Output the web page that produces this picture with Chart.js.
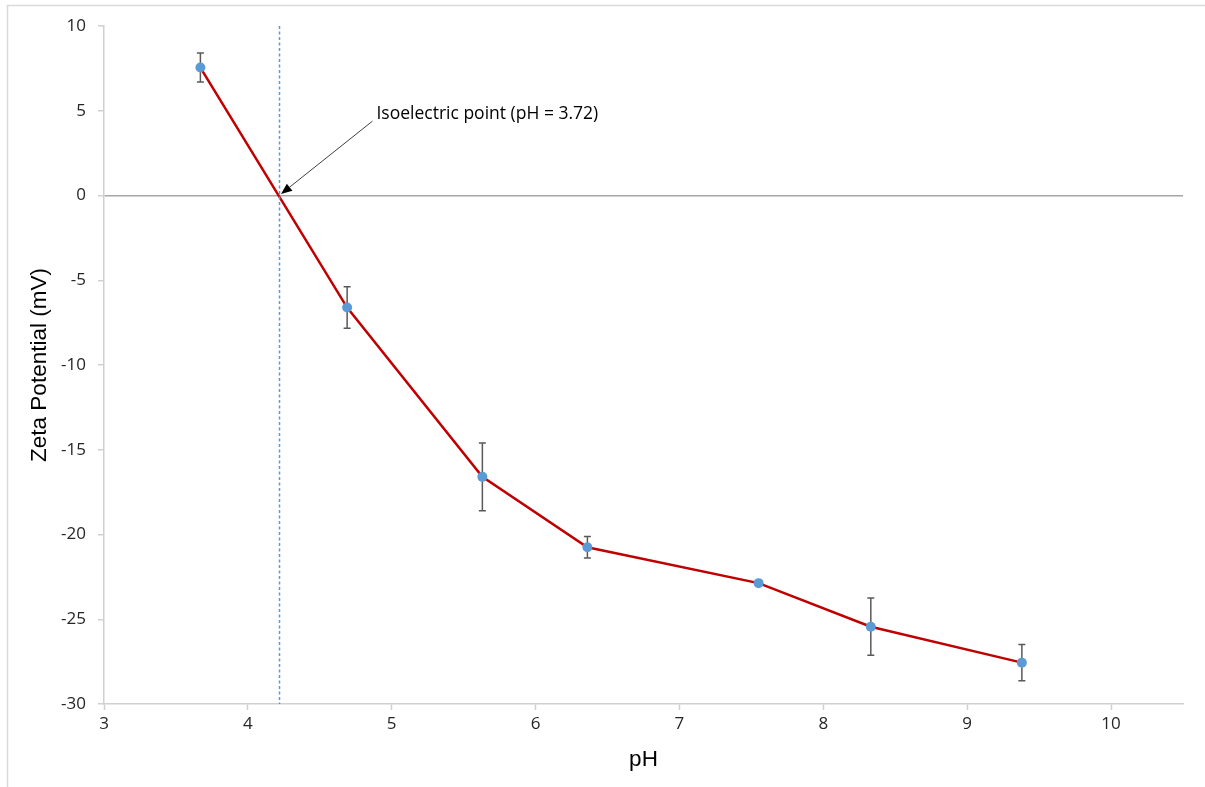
<!DOCTYPE html>
<html>
<head>
<meta charset="utf-8">
<script src="https://cdn.jsdelivr.net/npm/chart.js@4/dist/chart.umd.min.js"></script>
<style>
  html, body { margin: 0; padding: 0; background: #ffffff; }
  #wrap { width: 1205px; height: 787px; position: relative; }
</style>
</head>
<body>
<div id="wrap"><canvas id="c" width="1205" height="787"></canvas></div>
<script>
// Measured zeta potential vs pH, with standard deviation per point
const phValues   = [3.67, 4.69, 5.63, 6.36, 7.55, 8.33, 9.38];
const zetaValues = [7.55, -6.61, -16.6, -20.75, -22.87, -25.44, -27.56];
const zetaErrors = [0.85, 1.22, 2.0, 0.63, 0, 1.69, 1.07];

// Isoelectric point marker and its label
const isoPH = 4.22;
const isoLabel = 'Isoelectric point (pH = 3.72)';
const isoLabelAt = { x: 4.88, y: 4.8 };

// Axis ranges
const xRange = { min: 3, max: 10.5, step: 1 };
const yRange = { min: -30, max: 10, step: 5 };

const frame = {
  id: 'frame',
  beforeDraw(chart) {
    const ctx = chart.ctx;
    ctx.save();
    ctx.fillStyle = '#ffffff';
    ctx.fillRect(0, 0, chart.width, chart.height);
    ctx.strokeStyle = '#d9d9d9';
    ctx.lineWidth = 1.5;
    ctx.beginPath();
    ctx.moveTo(7.5, chart.height);
    ctx.lineTo(7.5, 5.5);
    ctx.lineTo(chart.width, 5.5);
    ctx.stroke();
    ctx.restore();
  }
};

const errorBars = {
  id: 'errorBars',
  beforeDatasetDraw(chart, args) {
    if (args.index !== 1) return;
    const xs = chart.scales.x, ys = chart.scales.y, ctx = chart.ctx;
    ctx.save();
    ctx.strokeStyle = '#595959';
    ctx.lineWidth = 1.5;
    phValues.forEach((p, i) => {
      const e = zetaErrors[i];
      if (!e) return;
      const px = xs.getPixelForValue(p);
      const top = ys.getPixelForValue(zetaValues[i] + e);
      const bot = ys.getPixelForValue(zetaValues[i] - e);
      ctx.beginPath();
      ctx.moveTo(px, top); ctx.lineTo(px, bot);
      ctx.moveTo(px - 3.5, top); ctx.lineTo(px + 3.5, top);
      ctx.moveTo(px - 3.5, bot); ctx.lineTo(px + 3.5, bot);
      ctx.stroke();
    });
    ctx.restore();
  }
};

const isoAnnotation = {
  id: 'isoAnnotation',
  afterDatasetsDraw(chart) {
    const xs = chart.scales.x, ys = chart.scales.y, ctx = chart.ctx;
    const tx = xs.getPixelForValue(isoLabelAt.x);
    const ty = ys.getPixelForValue(isoLabelAt.y);
    const tipX = xs.getPixelForValue(isoPH) + 1.5;
    const tipY = ys.getPixelForValue(0) - 1.5;
    const startX = tx - 2, startY = ty + 7;
    ctx.save();
    ctx.fillStyle = '#000000';
    ctx.font = '17.5px "Open Sans"';
    ctx.textBaseline = 'middle';
    ctx.textAlign = 'left';
    ctx.fillText(isoLabel, tx + 2, ty);
    // leader line with filled arrow head
    const ang = Math.atan2(tipY - startY, tipX - startX);
    const headLen = 11, headW = 4.5;
    const bx = tipX - headLen * Math.cos(ang), by = tipY - headLen * Math.sin(ang);
    ctx.strokeStyle = '#404040';
    ctx.lineWidth = 1;
    ctx.beginPath();
    ctx.moveTo(startX, startY);
    ctx.lineTo(bx, by);
    ctx.stroke();
    ctx.fillStyle = '#000000';
    ctx.beginPath();
    ctx.moveTo(tipX, tipY);
    ctx.lineTo(bx + headW * Math.sin(ang), by - headW * Math.cos(ang));
    ctx.lineTo(bx - headW * Math.sin(ang), by + headW * Math.cos(ang));
    ctx.closePath();
    ctx.fill();
    ctx.restore();
  }
};

const tickFont = { family: '"Open Sans"', size: 17 };
const titleFont = { family: '"Liberation Sans"', size: 22.5 };

new Chart(document.getElementById('c'), {
  type: 'scatter',
  data: {
    datasets: [
      {
        data: [{ x: isoPH, y: yRange.max }, { x: isoPH, y: yRange.min }],
        showLine: true,
        borderColor: '#5B9BD5',
        borderDash: [3, 2.5],
        borderWidth: 1.5,
        pointRadius: 0,
        pointHoverRadius: 0
      },
      {
        data: phValues.map((p, i) => ({ x: p, y: zetaValues[i] })),
        showLine: true,
        borderColor: '#C00000',
        borderWidth: 2.5,
        pointRadius: 5,
        pointHoverRadius: 5,
        pointBackgroundColor: '#5B9BD5',
        pointBorderWidth: 0,
        clip: false
      }
    ]
  },
  options: {
    responsive: false,
    animation: false,
    devicePixelRatio: 1,
    layout: { padding: { left: 0, top: 26, right: 22, bottom: 0 } },
    plugins: { legend: { display: false }, tooltip: { enabled: false } },
    scales: {
      x: {
        type: 'linear',
        min: xRange.min,
        max: xRange.max,
        afterBuildTicks(s) { s.ticks = s.ticks.filter(t => Number.isInteger(t.value)); },
        afterFit(s) { s.height = 83; },
        ticks: { stepSize: xRange.step, includeBounds: false, color: '#262626', font: tickFont, padding: 4, maxRotation: 0 },
        grid: { drawOnChartArea: false, drawTicks: true, tickLength: 6, tickColor: '#d0d0d0', tickWidth: 1.5 },
        border: { color: '#d0d0d0', width: 1.5 },
        title: { display: true, text: 'pH', color: '#000000', font: titleFont, padding: { top: 0, bottom: 13.5 } }
      },
      y: {
        type: 'linear',
        min: yRange.min,
        max: yRange.max,
        afterFit(s) { s.width = 104; },
        ticks: { stepSize: yRange.step, color: '#262626', font: tickFont, padding: 12 },
        grid: {
          drawTicks: true,
          tickLength: 6,
          tickColor: '#d0d0d0',
          tickWidth: 1.5,
          color: c => (c.tick && c.tick.value === 0 ? '#a6a6a6' : 'rgba(0,0,0,0)'),
          lineWidth: 1.5
        },
        border: { color: '#d0d0d0', width: 1.5 },
        title: { display: true, text: 'Zeta Potential (mV)', color: '#000000', font: titleFont, padding: { top: 26, bottom: 0 } }
      }
    }
  },
  plugins: [frame, errorBars, isoAnnotation]
});
</script>
</body>
</html>
